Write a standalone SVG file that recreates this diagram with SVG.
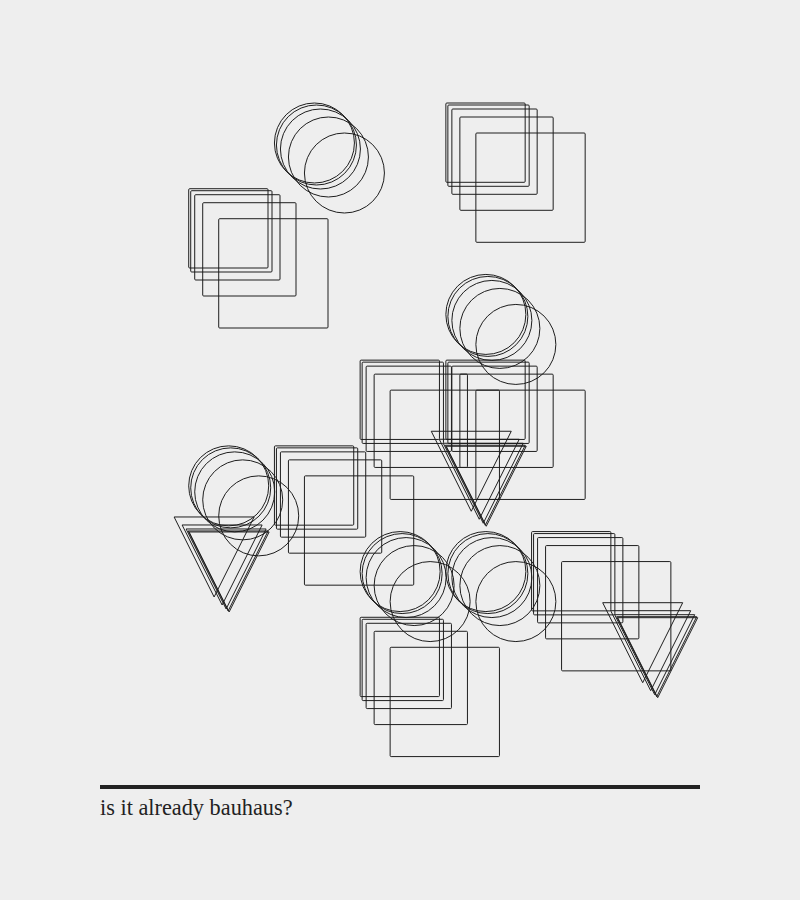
<svg xmlns="http://www.w3.org/2000/svg" xmlns:xlink="http://www.w3.org/1999/xlink" width="800" height="900" viewBox="0 0 800 900">
<style>
.s{fill:none;stroke:#1e1e1e;stroke-width:1}
.cap{font-family:"Liberation Serif","Times New Roman",serif;font-size:22.3px;fill:#222}
</style>
<defs>
<polygon id="tri" points="0,0 80,0 40,80"/>
</defs>
<rect x="0" y="0" width="800" height="900" fill="#eeeeee"/>
<g id="squares1" class="s">
<rect x="188.71" y="188.71" width="79.3" height="79.3" rx="1"/>
<rect x="190.71" y="190.71" width="81.3" height="81.3" rx="1"/>
<rect x="194.71" y="194.71" width="85.3" height="85.3" rx="1"/>
<rect x="202.71" y="202.71" width="93.3" height="93.3" rx="1"/>
<rect x="218.71" y="218.71" width="109.3" height="109.3" rx="1"/>
</g>
<g id="squares2" class="s">
<rect x="445.86" y="103" width="79.3" height="79.3" rx="1"/>
<rect x="447.86" y="105" width="81.3" height="81.3" rx="1"/>
<rect x="451.86" y="109" width="85.3" height="85.3" rx="1"/>
<rect x="459.86" y="117" width="93.3" height="93.3" rx="1"/>
<rect x="475.86" y="133" width="109.3" height="109.3" rx="1"/>
</g>
<g id="squares3" class="s">
<rect x="360.14" y="360.14" width="79.3" height="79.3" rx="1"/>
<rect x="362.14" y="362.14" width="81.3" height="81.3" rx="1"/>
<rect x="366.14" y="366.14" width="85.3" height="85.3" rx="1"/>
<rect x="374.14" y="374.14" width="93.3" height="93.3" rx="1"/>
<rect x="390.14" y="390.14" width="109.3" height="109.3" rx="1"/>
</g>
<g id="squares4" class="s">
<rect x="445.86" y="360.14" width="79.3" height="79.3" rx="1"/>
<rect x="447.86" y="362.14" width="81.3" height="81.3" rx="1"/>
<rect x="451.86" y="366.14" width="85.3" height="85.3" rx="1"/>
<rect x="459.86" y="374.14" width="93.3" height="93.3" rx="1"/>
<rect x="475.86" y="390.14" width="109.3" height="109.3" rx="1"/>
</g>
<g id="squares5" class="s">
<rect x="274.43" y="445.86" width="79.3" height="79.3" rx="1"/>
<rect x="276.43" y="447.86" width="81.3" height="81.3" rx="1"/>
<rect x="280.43" y="451.86" width="85.3" height="85.3" rx="1"/>
<rect x="288.43" y="459.86" width="93.3" height="93.3" rx="1"/>
<rect x="304.43" y="475.86" width="109.3" height="109.3" rx="1"/>
</g>
<g id="squares6" class="s">
<rect x="531.57" y="531.57" width="79.3" height="79.3" rx="1"/>
<rect x="533.57" y="533.57" width="81.3" height="81.3" rx="1"/>
<rect x="537.57" y="537.57" width="85.3" height="85.3" rx="1"/>
<rect x="545.57" y="545.57" width="93.3" height="93.3" rx="1"/>
<rect x="561.57" y="561.57" width="109.3" height="109.3" rx="1"/>
</g>
<g id="squares7" class="s">
<rect x="360.14" y="617.29" width="79.3" height="79.3" rx="1"/>
<rect x="362.14" y="619.29" width="81.3" height="81.3" rx="1"/>
<rect x="366.14" y="623.29" width="85.3" height="85.3" rx="1"/>
<rect x="374.14" y="631.29" width="93.3" height="93.3" rx="1"/>
<rect x="390.14" y="647.29" width="109.3" height="109.3" rx="1"/>
</g>
<g id="circles1" class="s">
<circle cx="314.43" cy="143" r="40"/>
<circle cx="316.43" cy="145" r="40"/>
<circle cx="320.43" cy="149" r="40"/>
<circle cx="328.43" cy="157" r="40"/>
<circle cx="344.43" cy="173" r="40"/>
</g>
<g id="circles2" class="s">
<circle cx="485.86" cy="314.43" r="40"/>
<circle cx="487.86" cy="316.43" r="40"/>
<circle cx="491.86" cy="320.43" r="40"/>
<circle cx="499.86" cy="328.43" r="40"/>
<circle cx="515.86" cy="344.43" r="40"/>
</g>
<g id="circles3" class="s">
<circle cx="228.71" cy="485.86" r="40"/>
<circle cx="230.71" cy="487.86" r="40"/>
<circle cx="234.71" cy="491.86" r="40"/>
<circle cx="242.71" cy="499.86" r="40"/>
<circle cx="258.71" cy="515.86" r="40"/>
</g>
<g id="circles4" class="s">
<circle cx="400.14" cy="571.57" r="40"/>
<circle cx="402.14" cy="573.57" r="40"/>
<circle cx="406.14" cy="577.57" r="40"/>
<circle cx="414.14" cy="585.57" r="40"/>
<circle cx="430.14" cy="601.57" r="40"/>
</g>
<g id="circles5" class="s">
<circle cx="485.86" cy="571.57" r="40"/>
<circle cx="487.86" cy="573.57" r="40"/>
<circle cx="491.86" cy="577.57" r="40"/>
<circle cx="499.86" cy="585.57" r="40"/>
<circle cx="515.86" cy="601.57" r="40"/>
</g>
<g id="triangles1" class="s">
<use xlink:href="#tri" href="#tri" x="446.26" y="446.26"/>
<use xlink:href="#tri" href="#tri" x="445.26" y="445.26"/>
<use xlink:href="#tri" href="#tri" x="443.26" y="443.26"/>
<use xlink:href="#tri" href="#tri" x="439.26" y="439.26"/>
<use xlink:href="#tri" href="#tri" x="431.26" y="431.26"/>
</g>
<g id="triangles2" class="s">
<use xlink:href="#tri" href="#tri" x="189.11" y="531.97"/>
<use xlink:href="#tri" href="#tri" x="188.11" y="530.97"/>
<use xlink:href="#tri" href="#tri" x="186.11" y="528.97"/>
<use xlink:href="#tri" href="#tri" x="182.11" y="524.97"/>
<use xlink:href="#tri" href="#tri" x="174.11" y="516.97"/>
</g>
<g id="triangles3" class="s">
<use xlink:href="#tri" href="#tri" x="617.69" y="617.69"/>
<use xlink:href="#tri" href="#tri" x="616.69" y="616.69"/>
<use xlink:href="#tri" href="#tri" x="614.69" y="614.69"/>
<use xlink:href="#tri" href="#tri" x="610.69" y="610.69"/>
<use xlink:href="#tri" href="#tri" x="602.69" y="602.69"/>
</g>
<g id="caption">
<rect x="100" y="785" width="600" height="4" fill="#222"/>
<text class="cap" x="100" y="814.5">is it already bauhaus?</text>
</g>
</svg>
